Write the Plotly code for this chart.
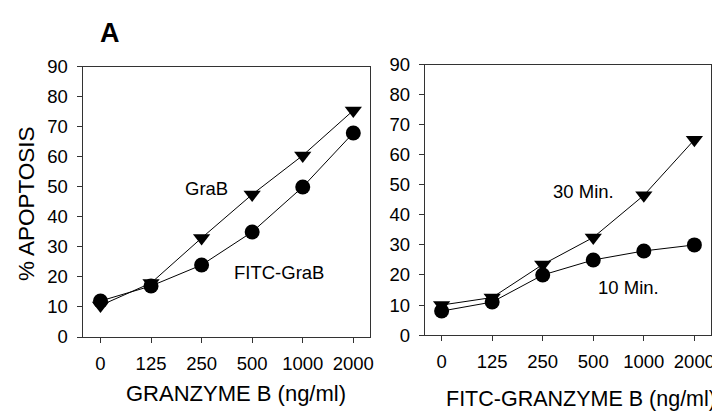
import plotly.graph_objects as go

doses = ["0", "125", "250", "500", "1000", "2000"]
grab = [10.5, 18, 33, 47.5, 60.5, 75.5]
fitc_grab = [12, 17, 24, 35, 50, 68]
min30 = [10, 12.5, 23.5, 32.5, 46.5, 65]
min10 = [8, 11, 20, 25, 28, 30]
yticks = [0, 10, 20, 30, 40, 50, 60, 70, 80, 90]

W, H = 720, 414
FONT = "Liberation Sans, Arial, sans-serif"

def px(x):
    return x / W

def py(y):
    return 1 - y / H

fig = go.Figure()

def add_series(xa, ya, yvals, symbol):
    fig.add_trace(go.Scatter(
        x=doses, y=yvals, xaxis=xa, yaxis=ya, mode="lines+markers",
        line=dict(color="black", width=1),
        marker=dict(symbol=symbol, size=15, color="black", line=dict(width=0)),
        showlegend=False, cliponaxis=False,
    ))

add_series("x", "y", grab, "triangle-down")
add_series("x", "y", fitc_grab, "circle")
add_series("x2", "y2", min30, "triangle-down")
add_series("x2", "y2", min10, "circle")

axis_common = dict(
    showline=True, linecolor="#333", linewidth=1, mirror=True,
    showgrid=False, zeroline=False, ticks="outside", ticklen=5,
    tickcolor="#333", tickwidth=1, ticklabelstandoff=5,
    tickfont=dict(family=FONT, size=18.5, color="black"),
)

fig.update_layout(
    width=W, height=H,
    margin=dict(l=0, r=0, t=0, b=0),
    paper_bgcolor="white", plot_bgcolor="white",
    font=dict(family=FONT, color="black"),
    xaxis=dict(type="category", categoryorder="array", categoryarray=doses,
               domain=[px(75), px(364)], range=[-0.354, 5.33], anchor="y", **axis_common),
    yaxis=dict(domain=[py(335), py(50.5)], range=[0, 90], tickvals=yticks,
               anchor="x", **axis_common),
    xaxis2=dict(type="category", categoryorder="array", categoryarray=doses,
                domain=[px(419), px(707)], range=[-0.335, 5.33], anchor="y2", **axis_common),
    yaxis2=dict(domain=[py(333), py(48)], range=[0, 90], tickvals=yticks,
                anchor="x2", **axis_common),
)

def note(text, x, y, size=18.5, angle=0, bold=False):
    fig.add_annotation(
        text=f"<b>{text}</b>" if bold else text,
        x=px(x), y=py(y), xref="paper", yref="paper",
        xanchor="center", yanchor="middle", showarrow=False, textangle=angle,
        font=dict(family=FONT, size=size, color="black"),
    )

note("A", 103, 15, size=27, bold=True)
note("% APOPTOSIS", 18, 194, size=22.5, angle=-90)
note("GRANZYME B (ng/ml)", 229, 395, size=22)
note("FITC-GRANZYME B (ng/ml)", 576, 400, size=21.5)
note("GraB", 200, 179)
note("FITC-GraB", 273, 267)
note("30 Min.", 579, 182)
note("10 Min.", 624, 283)

fig.write_html("out.html")
